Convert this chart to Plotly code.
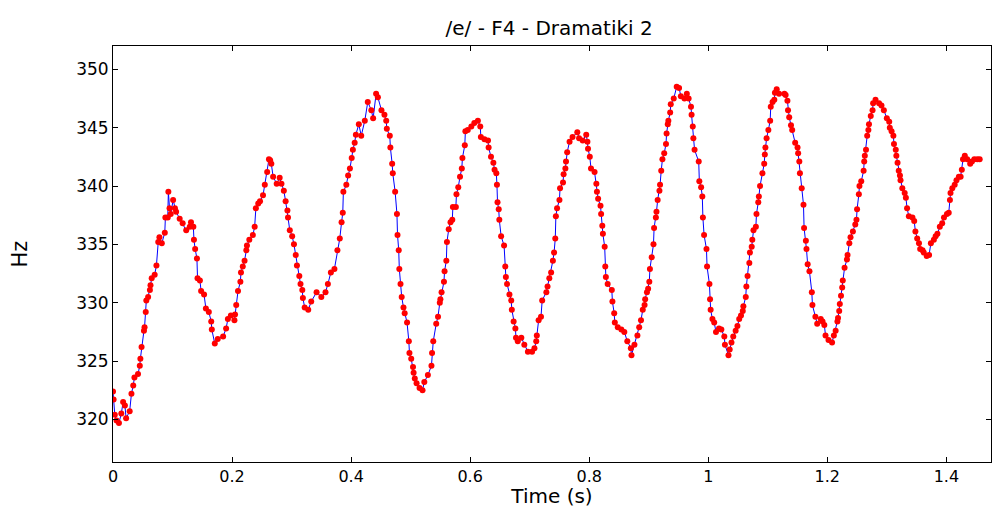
import plotly.graph_objects as go

# Time (s) and pitch (Hz)
time_s = [
    0.000, 0.001, 0.003, 0.006, 0.010, 0.014, 0.017, 0.020, 0.022, 0.028,
    0.031, 0.034, 0.036, 0.042, 0.045, 0.046, 0.048, 0.052, 0.053, 0.055,
    0.056, 0.059, 0.062, 0.063, 0.065, 0.070, 0.073, 0.076, 0.078, 0.082,
    0.087, 0.088, 0.092, 0.093, 0.095, 0.097, 0.101, 0.104, 0.106, 0.112,
    0.117, 0.123, 0.129, 0.131, 0.135, 0.136, 0.138, 0.141, 0.142, 0.146,
    0.148, 0.153, 0.156, 0.161, 0.165, 0.166, 0.171, 0.176, 0.185, 0.190,
    0.193, 0.198, 0.204, 0.205, 0.207, 0.210, 0.214, 0.215, 0.218, 0.221,
    0.224, 0.225, 0.229, 0.235, 0.238, 0.240, 0.244, 0.247, 0.252, 0.255,
    0.259, 0.262, 0.264, 0.266, 0.269, 0.275, 0.280, 0.283, 0.287, 0.290,
    0.293, 0.294, 0.297, 0.301, 0.304, 0.307, 0.309, 0.313, 0.315, 0.318,
    0.319, 0.322, 0.328, 0.333, 0.342, 0.350, 0.357, 0.361, 0.366, 0.372,
    0.377, 0.381, 0.384, 0.386, 0.387, 0.392, 0.395, 0.398, 0.401, 0.403,
    0.406, 0.408, 0.413, 0.417, 0.423, 0.428, 0.434, 0.437, 0.442, 0.445,
    0.451, 0.456, 0.459, 0.460, 0.465, 0.466, 0.469, 0.470, 0.474, 0.477,
    0.478, 0.480, 0.481, 0.483, 0.485, 0.488, 0.490, 0.494, 0.497, 0.498,
    0.501, 0.504, 0.505, 0.507, 0.510, 0.515, 0.520, 0.523, 0.529, 0.535,
    0.536, 0.538, 0.543, 0.546, 0.549, 0.550, 0.552, 0.556, 0.557, 0.560,
    0.561, 0.564, 0.567, 0.570, 0.571, 0.576, 0.577, 0.580, 0.583, 0.586,
    0.587, 0.591, 0.592, 0.596, 0.602, 0.607, 0.613, 0.617, 0.618, 0.624,
    0.630, 0.631, 0.635, 0.639, 0.641, 0.644, 0.645, 0.646, 0.648, 0.649,
    0.652, 0.657, 0.659, 0.660, 0.662, 0.666, 0.669, 0.670, 0.673, 0.676,
    0.677, 0.680, 0.686, 0.691, 0.697, 0.704, 0.708, 0.711, 0.712, 0.715,
    0.719, 0.721, 0.728, 0.730, 0.733, 0.736, 0.739, 0.741, 0.743, 0.744,
    0.746, 0.750, 0.751, 0.756, 0.757, 0.760, 0.761, 0.763, 0.767, 0.772,
    0.780, 0.783, 0.789, 0.795, 0.797, 0.798, 0.801, 0.803, 0.809, 0.812,
    0.813, 0.815, 0.819, 0.820, 0.822, 0.823, 0.826, 0.827, 0.828, 0.831,
    0.838, 0.839, 0.842, 0.843, 0.848, 0.854, 0.859, 0.864, 0.870, 0.871,
    0.876, 0.881, 0.884, 0.887, 0.890, 0.893, 0.894, 0.897, 0.899, 0.901,
    0.902, 0.905, 0.908, 0.909, 0.912, 0.913, 0.915, 0.918, 0.919, 0.921,
    0.923, 0.926, 0.929, 0.930, 0.932, 0.933, 0.936, 0.937, 0.942, 0.947,
    0.951, 0.954, 0.960, 0.964, 0.967, 0.971, 0.972, 0.974, 0.975, 0.977,
    0.984, 0.985, 0.988, 0.990, 0.991, 0.993, 0.997, 0.998, 1.002, 1.003,
    1.004, 1.007, 1.010, 1.013, 1.018, 1.022, 1.027, 1.028, 1.034, 1.036,
    1.039, 1.042, 1.046, 1.049, 1.052, 1.055, 1.058, 1.059, 1.063, 1.064,
    1.066, 1.069, 1.070, 1.073, 1.074, 1.076, 1.080, 1.081, 1.084, 1.085,
    1.087, 1.091, 1.094, 1.095, 1.096, 1.098, 1.101, 1.104, 1.105, 1.108,
    1.111, 1.112, 1.115, 1.119, 1.128, 1.130, 1.133, 1.134, 1.136, 1.139,
    1.141, 1.146, 1.150, 1.151, 1.153, 1.154, 1.157, 1.160, 1.161, 1.164,
    1.165, 1.167, 1.170, 1.174, 1.175, 1.180, 1.183, 1.189, 1.192, 1.195,
    1.197, 1.202, 1.208, 1.211, 1.214, 1.217, 1.218, 1.220, 1.221, 1.223,
    1.225, 1.226, 1.229, 1.233, 1.234, 1.237, 1.239, 1.243, 1.247, 1.249,
    1.250, 1.253, 1.254, 1.257, 1.261, 1.262, 1.263, 1.265, 1.267, 1.269,
    1.270, 1.273, 1.276, 1.277, 1.281, 1.287, 1.291, 1.295, 1.300, 1.304,
    1.305, 1.308, 1.311, 1.312, 1.315, 1.316, 1.318, 1.320, 1.322, 1.323,
    1.326, 1.330, 1.332, 1.334, 1.337, 1.343, 1.346, 1.348, 1.351, 1.354,
    1.356, 1.360, 1.362, 1.367, 1.371, 1.374, 1.379, 1.382, 1.385, 1.389,
    1.393, 1.396, 1.401, 1.404, 1.406, 1.407, 1.410, 1.414, 1.417, 1.421,
    1.424, 1.426, 1.428, 1.431, 1.435, 1.440, 1.443, 1.447, 1.452, 1.456,
]

pitch_hz = [
    322.4, 321.7, 320.4, 319.9, 319.7, 320.5, 321.5, 321.2, 320.1, 320.7,
    322.2, 322.9, 323.6, 323.9, 324.6, 325.2, 326.2, 327.6, 327.9, 329.2,
    330.2, 330.5, 331.1, 331.5, 332.1, 332.4, 333.2, 335.2, 335.6, 335.1,
    336.0, 337.3, 337.3, 339.5, 338.1, 337.6, 338.8, 338.1, 337.8, 337.2,
    336.8, 336.2, 336.5, 336.9, 336.5, 335.4, 334.6, 333.8, 332.1, 331.9,
    331.0, 330.7, 329.5, 329.2, 328.4, 327.7, 326.5, 326.9, 327.1, 327.8,
    328.6, 328.9, 328.5, 329.0, 329.8, 331.0, 331.8, 332.6, 333.1, 333.6,
    334.5, 334.9, 335.4, 335.8, 336.5, 338.1, 338.5, 338.7, 339.2, 340.1,
    341.2, 342.3, 342.2, 341.9, 340.8, 340.2, 340.7, 340.2, 339.6, 338.7,
    337.9, 337.3, 336.2, 335.7, 335.0, 334.1, 333.2, 332.3, 331.6, 331.1,
    330.4, 329.6, 329.4, 330.1, 330.9, 330.5, 330.9, 331.6, 332.6, 332.9,
    334.5, 335.5, 336.9, 337.7, 339.5, 340.1, 340.9, 341.5, 342.4, 343.1,
    343.7, 344.4, 345.3, 344.3, 345.6, 347.2, 346.5, 345.8, 347.9, 347.6,
    346.5, 346.1, 345.6, 344.9, 344.3, 343.3, 341.9, 341.1, 339.5, 337.6,
    335.8, 334.5, 332.9, 331.6, 330.5, 329.6, 329.1, 328.3, 326.7, 325.7,
    325.2, 324.5, 324.0, 323.5, 323.1, 322.7, 322.5, 323.2, 323.8, 324.6,
    325.7, 326.7, 328.2, 328.8, 330.0, 330.3, 330.9, 331.8, 332.7, 333.6,
    335.2, 336.3, 336.9, 337.1, 338.2, 338.2, 339.3, 339.9, 340.8, 341.5,
    342.4, 343.5, 344.7, 344.8, 345.1, 345.4, 345.6, 345.1, 344.2, 344.0,
    343.9, 343.3, 342.5, 342.0, 341.4, 341.1, 340.1, 338.6, 338.0, 337.1,
    335.7, 334.9, 333.1, 332.2, 331.6, 330.7, 330.2, 329.4, 328.4, 327.8,
    327.0, 326.7, 327.0, 326.4, 325.8, 325.8, 326.1, 326.7, 327.2, 328.5,
    328.8, 330.2, 330.9, 331.4, 332.1, 332.6, 333.6, 334.3, 335.5, 337.4,
    338.1, 338.8, 339.8, 340.3, 341.0, 341.5, 342.1, 342.9, 343.8, 344.2,
    344.6, 344.1, 343.9, 344.4, 343.8, 343.2, 342.5, 341.5, 341.2, 340.2,
    339.5, 338.9, 338.3, 337.6, 336.6, 335.9, 334.8, 333.1, 332.2, 331.6,
    331.1, 330.1, 329.1, 328.3, 327.9, 327.7, 327.5, 326.7, 326.1, 325.5,
    326.4, 327.2, 327.9, 328.5, 329.4, 329.8, 330.3, 330.9, 331.2, 331.8,
    332.9, 333.9, 335.0, 336.4, 337.3, 337.8, 338.8, 339.6, 340.1, 341.3,
    342.3, 342.8, 343.6, 344.5, 345.3, 345.6, 346.3, 347.0, 347.5, 348.5,
    348.4, 347.7, 347.5, 347.9, 347.5, 346.8, 346.1, 345.1, 344.1, 343.1,
    342.1, 340.4, 339.9, 339.1, 337.3, 335.8, 334.6, 333.1, 331.6, 330.3,
    329.4, 328.6, 328.3, 327.5, 327.8, 327.7, 327.1, 326.4, 325.5, 326.0,
    326.6, 327.1, 327.6, 328.0, 328.6, 328.9, 329.3, 329.7, 330.5, 331.4,
    332.3, 333.4, 334.3, 334.8, 335.4, 336.2, 336.5, 337.6, 338.6, 339.1,
    340.0, 341.1, 341.9, 342.7, 343.3, 344.1, 344.8, 345.6, 346.8, 347.2,
    347.4, 348.0, 348.3, 347.9, 347.9, 347.8, 347.3, 346.5, 345.9, 345.2,
    344.8, 343.7, 343.3, 342.8, 342.1, 341.1, 339.8, 338.4, 336.4, 335.3,
    334.6, 333.3, 332.7, 330.9, 329.8, 328.8, 328.2, 328.6, 328.4, 328.1,
    327.2, 326.8, 326.6, 327.2, 327.6, 328.4, 328.7, 329.3, 329.9, 330.6,
    331.3, 331.9, 333.0, 333.7, 334.1, 335.1, 335.6, 336.1, 336.7, 337.1,
    338.0, 339.3, 340.0, 340.4, 341.3, 342.1, 342.6, 343.1, 344.3, 344.8,
    345.3, 346.0, 346.5, 347.1, 347.4, 347.1, 346.9, 346.5, 345.8, 345.5,
    345.0, 344.7, 344.3, 343.6, 343.1, 342.6, 342.0, 341.3, 340.9, 340.5,
    339.8, 339.4, 339.0, 338.1, 337.4, 337.3, 337.0, 336.1, 335.5, 335.1,
    334.6, 334.5, 334.3, 334.0, 334.1, 335.1, 335.4, 335.7, 335.9, 336.5,
    336.8, 337.3, 337.6, 337.7, 338.8, 339.4, 339.8, 340.1, 340.5, 340.8,
    340.8, 341.4, 342.3, 342.6, 342.3, 341.9, 342.1, 342.3, 342.3, 342.3,
]

title_text = "/e/ - F4 - Dramatiki 2"
x_label = "Time (s)"
y_label = "Hz"
x_ticks = [0, 0.2, 0.4, 0.6, 0.8, 1.0, 1.2, 1.4]
x_tick_labels = ["0", "0.2", "0.4", "0.6", "0.8", "1", "1.2", "1.4"]
y_ticks = [320, 325, 330, 335, 340, 345, 350]

FONT = "DejaVu Sans"

fig = go.Figure()
fig.add_trace(go.Scatter(
    x=time_s, y=pitch_hz, mode="lines",
    line=dict(color="#0000ff", width=1),
    hoverinfo="skip", showlegend=False,
))
fig.add_trace(go.Scatter(
    x=time_s, y=pitch_hz, mode="markers",
    marker=dict(color="#ff0000", size=6, symbol="circle", line=dict(width=0)),
    showlegend=False,
))

axis_common = dict(
    showline=True, linecolor="black", linewidth=1, mirror="ticks",
    ticks="inside", ticklen=5, tickcolor="black", tickwidth=1,
    showgrid=False, zeroline=False,
)

fig.update_layout(
    width=993, height=508,
    margin=dict(l=113, r=2, t=46, b=46),
    paper_bgcolor="white", plot_bgcolor="white",
    title=dict(text=title_text, x=0.553, xanchor="center", y=0.945, yanchor="middle",
               font=dict(family=FONT, size=20, color="black")),
    xaxis=dict(range=[0, 1.475], tickvals=x_ticks, ticktext=x_tick_labels,
               tickfont=dict(family=FONT, size=16, color="black"),
               title=dict(text=x_label, standoff=0, font=dict(family=FONT, size=20, color="black")),
               **axis_common),
    yaxis=dict(range=[316.35, 352.0], tickvals=y_ticks,
               tickfont=dict(family=FONT, size=17, color="black"),
               title=dict(text=y_label, standoff=42, font=dict(family=FONT, size=21, color="black")),
               **axis_common),
)

fig.write_html("out.html")
